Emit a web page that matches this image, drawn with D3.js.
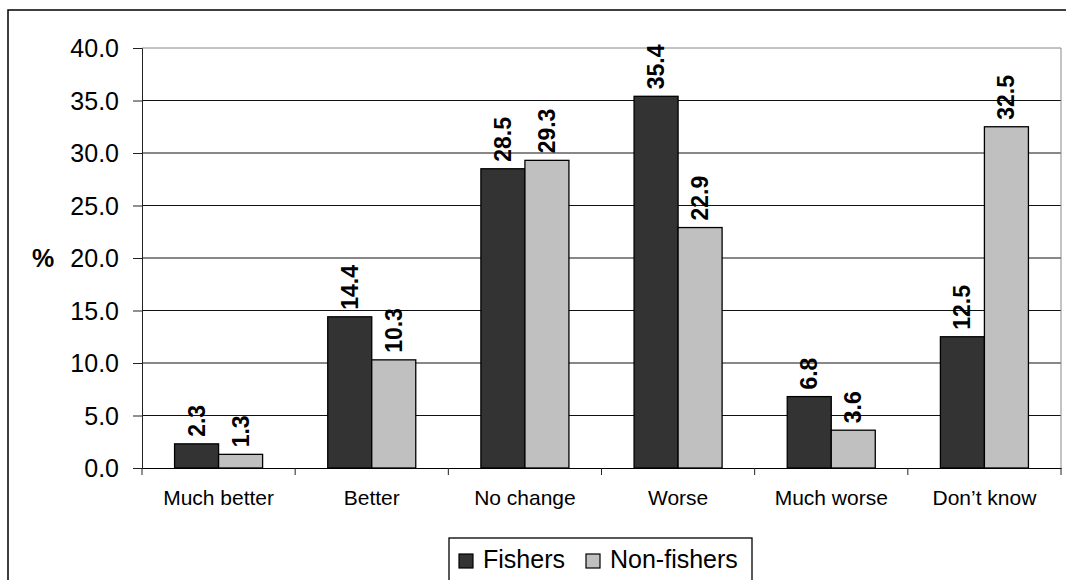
<!DOCTYPE html>
<html><head><meta charset="utf-8">
<script src="https://cdn.jsdelivr.net/npm/d3@7"></script>
<style>body{margin:0;background:#fff}svg{display:block}text{font-family:"Liberation Sans",Arial,sans-serif}</style>
</head><body>
<script>
const categories = ["Much better","Better","No change","Worse","Much worse","Don\u2019t know"];
const seriesNames = ["Fishers","Non-fishers"];
const fishers = [2.3,14.4,28.5,35.4,6.8,12.5];
const nonFishers = [1.3,10.3,29.3,22.9,3.6,32.5];
const yTicks = [0,5,10,15,20,25,30,35,40];
const colors = ["#333333","#c0c0c0"];

const W=1066,H=580;
const m={left:142,right:1061,top:48,bottom:468};
const svg=d3.select("body").append("svg").attr("width",W).attr("height",H);
svg.append("rect").attr("x",8).attr("y",10).attr("width",1070).attr("height",600)
  .attr("fill","#fff").attr("stroke","#000").attr("stroke-width",1.5);

const x0=d3.scaleBand().domain(categories).range([m.left,m.right]).paddingInner(0).paddingOuter(0);
const x1=d3.scaleBand().domain(seriesNames).range([0,x0.bandwidth()]).paddingInner(0).paddingOuter(0.74);
const y=d3.scaleLinear().domain([0,40]).range([m.bottom,m.top]);

// gridlines
svg.append("g").selectAll("line").data(yTicks.filter(t=>t>0)).join("line")
  .attr("x1",m.left).attr("x2",m.right).attr("y1",d=>y(d)).attr("y2",d=>y(d))
  .attr("stroke",d=>d===40?"#888":"#111").attr("stroke-width",1);
// plot border right
svg.append("line").attr("x1",m.right).attr("x2",m.right).attr("y1",m.top).attr("y2",m.bottom).attr("stroke","#888");

// y axis
const yAxis=d3.axisLeft(y).tickValues(yTicks).tickFormat(d3.format(".1f")).tickSize(9).tickPadding(14);
const gy=svg.append("g").attr("transform",`translate(${m.left},0)`).call(yAxis);
gy.select(".domain").attr("stroke","#222");
gy.selectAll(".tick line").attr("stroke","#222");
gy.selectAll("text").attr("font-size",25).attr("fill","#000").attr("dy","0.34em");

// x axis
const xAxis=d3.axisBottom(x0).tickSize(0).tickPadding(22);
const gx=svg.append("g").attr("transform",`translate(0,${m.bottom})`).call(xAxis);
gx.select(".domain").attr("stroke","#000");
gx.selectAll("text").attr("font-size",21).attr("fill","#000");
// category boundary ticks
const bounds=categories.map(c=>x0(c)).concat([m.right]);
svg.append("g").selectAll("line").data(bounds).join("line")
  .attr("x1",d=>d).attr("x2",d=>d).attr("y1",m.bottom).attr("y2",m.bottom+7).attr("stroke","#222");

// bars
const data=categories.map((c,i)=>({c,vals:[fishers[i],nonFishers[i]]}));
const g=svg.append("g").selectAll("g").data(data).join("g").attr("transform",d=>`translate(${x0(d.c)},0)`);
g.selectAll("rect").data(d=>d.vals.map((v,j)=>({v,s:seriesNames[j],j}))).join("rect")
  .attr("x",d=>x1(d.s)).attr("width",x1.bandwidth()).attr("y",d=>y(d.v)).attr("height",d=>y(0)-y(d.v))
  .attr("fill",d=>colors[d.j]).attr("stroke","#000").attr("stroke-width",1.3);
g.selectAll("text").data(d=>d.vals.map((v,j)=>({v,s:seriesNames[j],j}))).join("text")
  .attr("transform",d=>`translate(${x1(d.s)+x1.bandwidth()/2+8},${y(d.v)-7}) rotate(-90)`)
  .attr("font-size",23).attr("font-weight","bold").attr("fill","#000")
  .text(d=>d3.format(".1f")(d.v));

// y label
svg.append("text").attr("x",32).attr("y",267).attr("font-size",25).attr("font-weight","bold").text("%");

// legend
const lg=svg.append("g");
lg.append("rect").attr("x",449).attr("y",538).attr("width",303).attr("height",60).attr("fill","#fff").attr("stroke","#000").attr("stroke-width",1.3);
const lx=[459,586];
seriesNames.forEach((s,i)=>{
  lg.append("rect").attr("x",lx[i]).attr("y",554).attr("width",14).attr("height",14).attr("fill",colors[i]).attr("stroke","#000").attr("stroke-width",1.2);
  lg.append("text").attr("x",lx[i]+24).attr("y",568).attr("font-size",25).text(s);
});
</script>
</body></html>
